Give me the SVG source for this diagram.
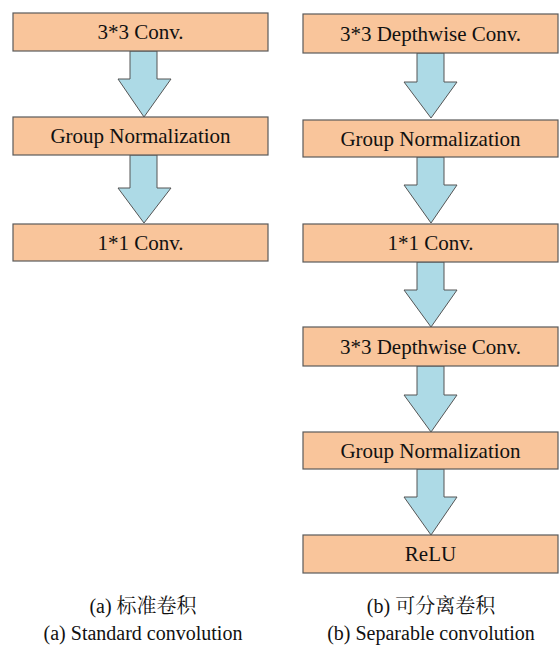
<svg xmlns="http://www.w3.org/2000/svg" width="559" height="646" viewBox="0 0 559 646">
<style>
.box{fill:#F9C59B;stroke:#5a5a5a;stroke-width:1.2}
.arr{fill:#ADDAE6;stroke:#555;stroke-width:1}
.t{font-family:'Times New Roman','Liberation Serif',serif;font-size:21px;fill:#111;text-anchor:middle}
.c{font-family:'Liberation Serif','Noto Serif CJK SC','Noto Sans CJK SC',serif;font-size:20px;fill:#111;text-anchor:middle}
</style>
<rect width="559" height="646" fill="#fff"/>
<g id="connectors">
<path class="arr" d="M130,51 V79 H118 L144,117 L171,79 H157 V51 Z"/>
<path class="arr" d="M130,155 V188 H118 L144,223 L171,188 H157 V155 Z"/>
<path class="arr" d="M417,53 V82 H404 L431,118 L457,82 H444 V53 Z"/>
<path class="arr" d="M417,157 V185 H404 L431,223 L457,185 H444 V157 Z"/>
<path class="arr" d="M417,262 V290 H404 L431,327 L457,290 H444 V262 Z"/>
<path class="arr" d="M417,366 V395 H404 L431,432 L457,395 H444 V366 Z"/>
<path class="arr" d="M417,469 V497 H404 L431,535 L457,497 H444 V469 Z"/>
</g>
<g id="a1"><rect class="box" x="13" y="13" width="255" height="38"/><text class="t" x="140.5" y="39">3*3 Conv.</text></g>
<g id="a2"><rect class="box" x="13" y="117" width="255" height="38"/><text class="t" x="140.5" y="143">Group Normalization</text></g>
<g id="a3"><rect class="box" x="13" y="224" width="255" height="37"/><text class="t" x="140.5" y="249.5">1*1 Conv.</text></g>
<g id="b1"><rect class="box" x="303" y="14" width="255" height="39"/><text class="t" x="430.5" y="40.5">3*3 Depthwise Conv.</text></g>
<g id="b2"><rect class="box" x="303" y="120" width="255" height="37"/><text class="t" x="430.5" y="145.5">Group Normalization</text></g>
<g id="b3"><rect class="box" x="303" y="224" width="255" height="38"/><text class="t" x="430.5" y="250">1*1 Conv.</text></g>
<g id="b4"><rect class="box" x="303" y="327" width="255" height="39"/><text class="t" x="430.5" y="353.5">3*3 Depthwise Conv.</text></g>
<g id="b5"><rect class="box" x="303" y="432" width="255" height="37"/><text class="t" x="430.5" y="457.5">Group Normalization</text></g>
<g id="b6"><rect class="box" x="303" y="535" width="255" height="38"/><text class="t" x="430.5" y="561">ReLU</text></g>
<g id="captions">
<text class="c" x="143" y="613">(a) 标准卷积</text>
<text class="c" x="143" y="640">(a) Standard convolution</text>
<text class="c" x="431" y="613">(b) 可分离卷积</text>
<text class="c" x="431" y="640">(b) Separable convolution</text>
</g>
</svg>
